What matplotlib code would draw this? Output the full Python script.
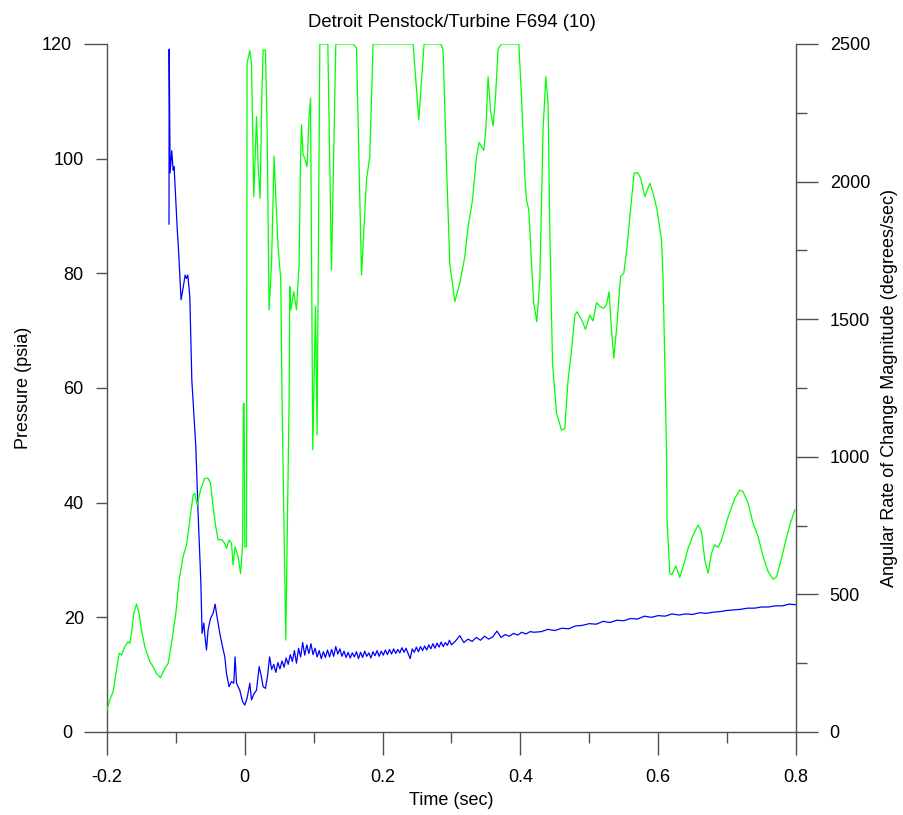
import numpy as np
import matplotlib
matplotlib.use('Agg')
import matplotlib.pyplot as plt
from matplotlib.ticker import FixedLocator, FixedFormatter

plt.rcParams['font.family'] = ['Liberation Sans', 'DejaVu Sans']
plt.rcParams['font.size'] = 13

# Pressure trace (psia) vs time (sec)
t_press = [-0.1100, -0.1098, -0.1084, -0.1060, -0.1040, -0.1026, -0.1000, -0.0980, -0.0962,
           -0.0925, -0.0900, -0.0866, -0.0846, -0.0827, -0.0798, -0.0769, -0.0711, -0.0678,
           -0.0639, -0.0620, -0.0595, -0.0580, -0.0556, -0.0533, -0.0498, -0.0460, -0.0431,
           -0.0411, -0.0363, -0.0324, -0.0290, -0.0266, -0.0228, -0.0193, -0.0160, -0.0141,
           -0.0120, -0.0073, -0.0033, 0.0000, 0.0033, 0.0073, 0.0097, 0.0135, 0.0170, 0.0208,
           0.0242, 0.0266,
           0.030, 0.033, 0.036, 0.039, 0.042, 0.045, 0.048, 0.051, 0.054, 0.057, 0.060,
           0.063, 0.066, 0.069, 0.072, 0.075, 0.078, 0.081, 0.084, 0.087, 0.090, 0.093,
           0.096, 0.099, 0.102, 0.105, 0.108, 0.111, 0.114, 0.117, 0.120, 0.123, 0.126,
           0.129, 0.132, 0.135, 0.138, 0.141, 0.144, 0.147, 0.150, 0.153, 0.156, 0.159,
           0.162, 0.165, 0.168, 0.171, 0.174, 0.177, 0.180, 0.183, 0.186, 0.189, 0.192,
           0.195, 0.198, 0.201, 0.204, 0.207, 0.210, 0.213, 0.216, 0.219, 0.222, 0.225,
           0.228, 0.231, 0.234, 0.237, 0.240, 0.243, 0.246, 0.249, 0.252, 0.255, 0.258,
           0.261, 0.264, 0.267, 0.270, 0.273, 0.276, 0.279, 0.282, 0.285, 0.288, 0.291,
           0.294, 0.297, 0.300,
           0.306, 0.312, 0.318, 0.324, 0.330, 0.336, 0.342, 0.348, 0.354, 0.360, 0.366,
           0.372, 0.378, 0.384, 0.390, 0.396, 0.402, 0.408, 0.414, 0.420,
           0.43, 0.44, 0.45, 0.46, 0.47, 0.48, 0.49, 0.50, 0.51, 0.52, 0.53, 0.54, 0.55, 0.56,
           0.57, 0.58, 0.59, 0.60, 0.61, 0.62, 0.63, 0.64, 0.65, 0.66, 0.67, 0.68, 0.69, 0.70,
           0.71, 0.72, 0.73, 0.74, 0.75, 0.76, 0.77, 0.78, 0.79, 0.80]
pressure = [88.6, 119.1, 97.5, 101.4, 98.0, 98.6, 92.2, 87.6, 84.1,
            75.4, 77.1, 79.7, 79.1, 79.7, 75.9, 61.4, 49.8, 38.2,
            26.5, 17.2, 19.0, 16.9, 14.3, 17.8, 19.8, 20.7, 22.3,
            20.7, 17.2, 14.9, 13.1, 10.2, 7.9, 8.8, 8.5, 13.1,
            8.5, 7.3, 5.3, 4.7, 5.9, 8.5, 5.6, 6.7, 7.3, 11.4,
            9.6, 7.9,
            7.6, 9.8, 13.1, 10.9, 11.8, 10.4, 12.1, 11.0, 12.4, 11.3, 12.9,
            11.8, 13.5, 12.3, 14.2, 12.0, 14.6, 13.1, 15.6, 13.4, 15.2, 13.7,
            15.4, 13.5, 14.6, 13.1, 14.2, 12.8, 14.0, 13.0, 14.3, 13.1, 14.4,
            13.2, 14.9, 13.6, 14.5, 13.2, 14.1, 13.0, 13.9, 12.9, 13.8, 13.1,
            14.0, 12.8, 13.9, 13.0, 14.1, 13.2, 13.8, 12.9, 14.0, 13.3, 14.2,
            13.2, 14.1, 13.4, 14.3, 13.5, 14.4, 13.6, 14.5, 13.7, 14.4, 13.8,
            14.7, 13.9, 14.6, 13.7, 12.8, 14.5, 13.9, 14.8, 14.0, 14.9, 14.2,
            15.0, 14.3, 15.2, 14.5, 15.4, 14.6, 15.5, 14.8, 15.7, 14.9, 15.6,
            15.1, 16.0, 15.2,
            15.9, 16.8, 15.6, 16.2, 15.8, 16.5, 16.0, 16.7, 16.2, 16.6, 17.6,
            16.5, 17.0, 16.7, 17.2, 16.9, 17.4, 17.1, 17.5, 17.4,
            17.5, 17.9, 17.7, 18.1, 18.0, 18.5, 18.6, 18.9, 18.8, 19.3, 19.1, 19.5, 19.4, 19.8,
            19.7, 20.2, 20.0, 20.3, 20.2, 20.6, 20.4, 20.6, 20.5, 20.8, 20.7, 20.9, 21.0, 21.2,
            21.3, 21.4, 21.6, 21.6, 21.8, 21.8, 22.0, 22.0, 22.3, 22.2]

# Angular rate of change magnitude (degrees/sec) vs time (sec)
t_rate = [-0.1999, -0.1960, -0.1911, -0.1862, -0.1824, -0.1790, -0.1742, -0.1694, -0.1669,
          -0.1644, -0.1611, -0.1572, -0.1534, -0.1499, -0.1451, -0.1379, -0.1331, -0.1282,
          -0.1224, -0.1176, -0.1113, -0.1064, -0.1001, -0.0954, -0.0896, -0.0846, -0.0798,
          -0.0750, -0.0726, -0.0692, -0.0643, -0.0581, -0.0533, -0.0498, -0.0460, -0.0421,
          -0.0388, -0.0338, -0.0290, -0.0266, -0.0228, -0.0193, -0.0170, -0.0141, -0.0097,
          -0.0062, -0.0033, -0.0020, -0.0010, 0.0000, 0.0025, 0.0033, 0.0073, 0.0097, 0.0131,
          0.0170, 0.0193, 0.0222, 0.0247, 0.0266, 0.0300, 0.0324, 0.0353, 0.0388, 0.0425,
          0.0450, 0.0483, 0.0522, 0.0541, 0.0595, 0.0643, 0.0653, 0.0668, 0.0711, 0.0750,
          0.0788, 0.0808, 0.0823, 0.0846, 0.0871, 0.0904, 0.0933, 0.0954, 0.0987, 0.1026,
          0.1049, 0.1089, 0.1205, 0.1258, 0.1321, 0.1572, 0.1621, 0.1694, 0.1766, 0.1814,
          0.1862, 0.2443, 0.2525, 0.2602, 0.2845, 0.2878, 0.2927, 0.2975, 0.3048, 0.3120,
          0.3193, 0.3241, 0.3305, 0.3363, 0.3401, 0.3435, 0.3469, 0.3498, 0.3531, 0.3566,
          0.3604, 0.3639, 0.3676, 0.3726, 0.3977, 0.4016, 0.4064, 0.4089, 0.4122, 0.4161,
          0.4194, 0.4238, 0.4282, 0.4329, 0.4369, 0.4402, 0.4427, 0.4466, 0.4524, 0.4597,
          0.4644, 0.4692, 0.4742, 0.4790, 0.4823, 0.4877, 0.4910, 0.4945, 0.5007, 0.5055,
          0.5105, 0.5152, 0.5200, 0.5250, 0.5287, 0.5322, 0.5356, 0.5403, 0.5453, 0.5501,
          0.5549, 0.5598, 0.5650, 0.5700, 0.5747, 0.5806, 0.5878, 0.5926, 0.5984, 0.6048,
          0.6071, 0.6096, 0.6120, 0.6129, 0.6168, 0.6197, 0.6255, 0.6313, 0.6362, 0.6434,
          0.6507, 0.6579, 0.6628, 0.6676, 0.6724, 0.6773, 0.6821, 0.6869, 0.6919, 0.7015,
          0.7112, 0.7184, 0.7232, 0.7305, 0.7377, 0.7450, 0.7523, 0.7595, 0.7668, 0.7717,
          0.7765, 0.7837, 0.7910, 0.7983]
ang_rate = [80, 116, 147, 225, 286, 280, 310, 328, 322,
            359, 431, 465, 431, 371, 310, 256, 237, 213,
            197, 225, 249, 322, 431, 552, 637, 680, 770,
            861, 867, 825, 879, 922, 922, 904, 819, 746,
            698, 700, 685, 667, 698, 686, 607, 673, 637,
            576, 673, 1194, 1194, 673, 673, 2430, 2476, 2430, 1945,
            2236, 2066, 1939, 2309, 2478, 2478, 2188, 1534, 1703, 2093,
            1945, 1764, 1643, 1200, 334, 1200, 1618, 1534, 1600, 1534,
            1703, 2066, 2206, 2097, 2085, 2054, 2236, 2303, 1025, 1546,
            1079, 2500, 2500, 1679, 2500, 2500, 2485, 1661, 2006, 2091,
            2500, 2500, 2224, 2500, 2500, 2478, 2066, 1703, 1564, 1630,
            1727, 1836, 1933, 2091, 2142, 2127, 2113, 2188, 2381, 2260,
            2202, 2309, 2481, 2500, 2500, 2309, 2018, 1933, 1897, 1703,
            1558, 1491, 1643, 2188, 2381, 2284, 1824, 1340, 1158, 1097,
            1103, 1279, 1388, 1515, 1527, 1503, 1485, 1463, 1515, 1494,
            1560, 1548, 1539, 1552, 1600, 1461, 1358, 1485, 1655, 1667,
            1764, 1897, 2030, 2033, 2012, 1945, 1994, 1958, 1897, 1788,
            1643, 1340, 1025, 770, 577, 571, 603, 562, 601, 668,
            716, 752, 728, 625, 577, 649, 680, 671, 698, 782,
            849, 879, 873, 831, 758, 710, 637, 583, 555, 564,
            607, 680, 752, 807]

x_major = [-0.2, 0, 0.2, 0.4, 0.6, 0.8]
x_major_labels = ['-0.2', '0', '0.2', '0.4', '0.6', '0.8']
x_minor = [-0.1, 0.1, 0.3, 0.5, 0.7]
p_major = [0, 120]
p_minor = [20, 40, 60, 80, 100]
r_major = [0, 500, 1000, 1500, 2000, 2500]
r_minor = [250, 750, 1250, 1750, 2250]

axis_col = '#505050'

fig = plt.figure(figsize=(9.04, 8.15), dpi=100)
ax = fig.add_axes([107 / 904, 1 - 732 / 815, 689 / 904, 688 / 815])
ax2 = ax.twinx()

ax.plot(t_press, pressure, color='#0000ff', lw=0.9)
ax2.plot(t_rate, ang_rate, color='#00ff00', lw=0.9)

ax.set_xlim(-0.2, 0.8)
ax.set_ylim(0, 120)
ax2.set_ylim(0, 2500)

for a in (ax, ax2):
    a.patch.set_visible(False)
    for s in a.spines.values():
        s.set_visible(False)
        s.set_color(axis_col)
        s.set_linewidth(1)
ax.spines['left'].set_visible(True)
ax.spines['bottom'].set_visible(True)
ax2.spines['right'].set_visible(True)

ax.xaxis.set_major_locator(FixedLocator(x_major))
ax.xaxis.set_major_formatter(FixedFormatter(x_major_labels))
ax.xaxis.set_minor_locator(FixedLocator(x_minor))

ax.yaxis.set_major_locator(FixedLocator(p_major))
ax.yaxis.set_major_formatter(FixedFormatter([str(v) for v in p_major]))
ax.yaxis.set_minor_locator(FixedLocator(p_minor))
ax.yaxis.set_minor_formatter(FixedFormatter([str(v) for v in p_minor]))

ax2.yaxis.set_major_locator(FixedLocator(r_major))
ax2.yaxis.set_major_formatter(FixedFormatter([str(v) for v in r_major]))
ax2.yaxis.set_minor_locator(FixedLocator(r_minor))
ax2.yaxis.set_minor_formatter(FixedFormatter([''] * len(r_minor)))

ax.tick_params(axis='x', which='major', direction='out', length=16.5, width=1,
               color=axis_col, pad=10.5, labelsize=13)
ax.tick_params(axis='x', which='minor', direction='out', length=8, width=1, color=axis_col)
ax.tick_params(axis='y', which='major', direction='out', length=16.5, width=1,
               color=axis_col, pad=8.7, labelsize=13)
ax.tick_params(axis='y', which='minor', direction='out', length=8, width=1,
               color=axis_col, pad=8.7, labelsize=13)
ax2.tick_params(axis='y', which='major', direction='out', length=16, width=1,
                color=axis_col, pad=8.3, labelsize=13)
ax2.tick_params(axis='y', which='minor', direction='out', length=8, width=1, color=axis_col)

ax.set_title('Detroit Penstock/Turbine F694 (10)', fontsize=13.3, pad=12)
ax.set_xlabel('Time (sec)', fontsize=13)
ax.set_ylabel('Pressure (psia)', fontsize=13)
ax2.set_ylabel('Angular Rate of Change Magnitude (degrees/sec)', fontsize=13)
ax.xaxis.set_label_coords(0.5, -0.0865)
ax.yaxis.set_label_coords(-0.109, 0.5)
ax2.yaxis.set_label_coords(1.1234, 0.5)

fig.savefig('out.png', dpi=100)
